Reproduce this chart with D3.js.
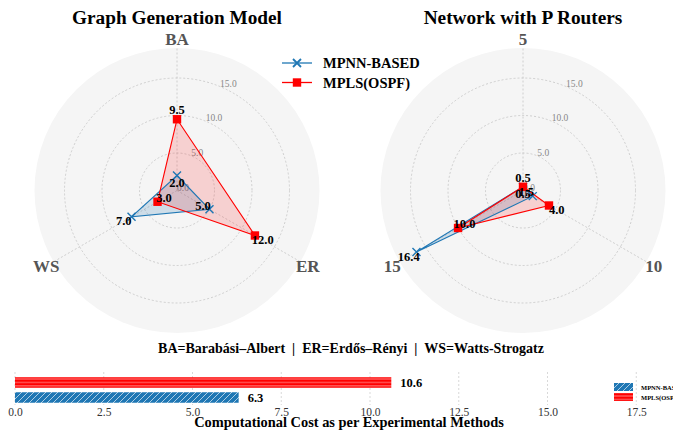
<!DOCTYPE html>
<html><head><meta charset="utf-8">
<script src="https://cdn.jsdelivr.net/npm/d3@7"></script>
<style>
html,body{margin:0;padding:0;background:#fff;}
svg{display:block;font-family:"Liberation Serif","Times New Roman",serif;}
</style></head>
<body><svg id="c" width="673" height="430"></svg>
<script>
// ---- data ----
const seriesNames = ["MPNN-BASED", "MPLS(OSPF)"];
const modelAxes = ["BA", "ER", "WS"];
const modelMPNN = [2.0, 5.0, 7.0];
const modelMPLS = [9.5, 12.0, 3.0];
const routerAxes = ["5", "10", "15"];
const routerMPNN = [0.5, 1.5, 16.4];
const routerMPLS = [0.5, 4.0, 10.0];
const radialTicks = [0, 5, 10, 15];
const radialMax = 19;
const costMethods = ["MPNN-BASED", "MPLS(OSPF)"];
const costValues = [6.3, 10.6];
const costTicks = [0, 2.5, 5, 7.5, 10, 12.5, 15, 17.5];
const subtitle = "BA=Barabási–Albert  |  ER=Erdős–Rényi  |  WS=Watts-Strogatz";
const costTitle = "Computational Cost as per Experimental Methods";

const BLUE = "#1f77b4", RED = "#ff0000";
const svg = d3.select("#c");
const defs = svg.append("defs");

// hatch patterns
const pr = defs.append("pattern").attr("id","hRed").attr("patternUnits","userSpaceOnUse")
  .attr("width",10).attr("height",3.4);
pr.append("rect").attr("width",10).attr("height",3.4).attr("fill",RED);
pr.append("rect").attr("y",1.2).attr("width",10).attr("height",0.9).attr("fill","#fff").attr("opacity",0.55);
const pb = defs.append("pattern").attr("id","hBlue").attr("patternUnits","userSpaceOnUse")
  .attr("width",6).attr("height",6);
pb.append("rect").attr("width",6).attr("height",6).attr("fill",BLUE);
pb.append("path").attr("d","M0,6L6,0M-1.5,1.5L1.5,-1.5M4.5,7.5L7.5,4.5")
  .attr("stroke","#fff").attr("stroke-width",0.8).attr("opacity",0.8);

const R = 142.5;
const rScale = d3.scaleLinear().domain([0, radialMax]).range([0, R]);

function radar(cx, cy, title, axes, mpnn, mpls) {
  const g = svg.append("g").attr("transform", `translate(${cx},${cy})`);
  const n = axes.length;
  const ang = i => i * 2 * Math.PI / n;
  const pt = (i, v) => [Math.sin(ang(i)) * rScale(v), -Math.cos(ang(i)) * rScale(v)];

  g.append("circle").attr("r", R).attr("fill", "#f5f5f5");
  radialTicks.filter(t => t > 0).forEach(t => {
    g.append("circle").attr("r", rScale(t)).attr("fill", "none")
      .attr("stroke", "#c4c4c4").attr("stroke-width", 0.8).attr("stroke-dasharray", "2,2");
  });
  axes.forEach((a, i) => {
    const [x, y] = pt(i, radialMax);
    g.append("line").attr("x1", 0).attr("y1", 0).attr("x2", x).attr("y2", y)
      .attr("stroke", "#c4c4c4").attr("stroke-width", 0.8).attr("stroke-dasharray", "2,2");
    const la = ang(i), lr = 151;
    g.append("text").attr("x", Math.sin(la) * lr).attr("y", -Math.cos(la) * lr)
      .attr("text-anchor", "middle").attr("dominant-baseline", "central")
      .attr("font-size", 17).attr("font-weight", "bold").attr("fill", "#555").text(a);
  });
  // radial tick labels at 22.5 deg
  const ra = 22.5 * Math.PI / 180;
  radialTicks.forEach(t => {
    g.append("text").attr("x", Math.sin(ra) * rScale(t)).attr("y", -Math.cos(ra) * rScale(t))
      .attr("font-size", 9.5).attr("fill", "#888").text(t.toFixed(1));
  });
  const line = d3.line().curve(d3.curveLinearClosed);
  const series = [
    {vals: mpnn, other: mpls, color: BLUE, fill: "rgba(31,119,180,0.18)", mk: "x", hi: false},
    {vals: mpls, other: mpnn, color: RED, fill: "rgba(255,0,0,0.15)", mk: "s", hi: true}
  ];
  series.forEach(s => {
    g.append("path").attr("d", line(s.vals.map((v, i) => pt(i, v))))
      .attr("fill", s.fill).attr("stroke", "none");
  });
  series.forEach(s => {
    g.append("path").attr("d", line(s.vals.map((v, i) => pt(i, v))))
      .attr("fill", "none").attr("stroke", s.color).attr("stroke-width", 1.1);
    s.vals.forEach((v, i) => {
      const [x, y] = pt(i, v);
      if (s.mk === "s") {
        g.append("rect").attr("x", x - 4.2).attr("y", y - 4.2).attr("width", 8.4).attr("height", 8.4).attr("fill", RED);
      } else {
        g.append("path").attr("d", `M${x-4},${y-4}L${x+4},${y+4}M${x-4},${y+4}L${x+4},${y-4}`)
          .attr("stroke", BLUE).attr("stroke-width", 1.4);
      }
    });
  });
  // value labels
  series.forEach(s => {
    s.vals.forEach((v, i) => {
      const outside = s.hi ? v >= s.other[i] : v > s.other[i];
      const rv = outside ? v + 1.2 : v - 1.0;
      const a = ang(i);
      const x = Math.sin(a) * rScale(Math.abs(rv)) * Math.sign(rv);
      const y = -Math.cos(a) * rScale(Math.abs(rv)) * Math.sign(rv);
      g.append("text").attr("x", x).attr("y", y).attr("text-anchor", "middle")
        .attr("dominant-baseline", "central").attr("font-size", 12.5).attr("font-weight", "bold")
        .attr("fill", "#000").text(v.toFixed(1));
    });
  });
  svg.append("text").attr("x", cx).attr("y", 24).attr("text-anchor", "middle")
    .attr("font-size", 19.3).attr("font-weight", "bold").attr("fill", "#000").text(title);
}

radar(177, 190.5, "Graph Generation Model", modelAxes, modelMPNN, modelMPLS);
radar(523, 190.5, "Network with P Routers", routerAxes, routerMPNN, routerMPLS);

// radar legend
const lg = svg.append("g");
seriesNames.forEach((nm, i) => {
  const y = 63 + i * 19.5;
  const col = i === 0 ? BLUE : RED;
  lg.append("line").attr("x1", 282).attr("x2", 312).attr("y1", y).attr("y2", y)
    .attr("stroke", col).attr("stroke-width", 1.3);
  if (i === 0) {
    lg.append("path").attr("d", `M293,${y-4}L301,${y+4}M293,${y+4}L301,${y-4}`)
      .attr("stroke", BLUE).attr("stroke-width", 1.8);
  } else {
    lg.append("rect").attr("x", 292.8).attr("y", y - 4.2).attr("width", 8.4).attr("height", 8.4).attr("fill", RED);
  }
  lg.append("text").attr("x", 323).attr("y", y).attr("dominant-baseline", "central")
    .attr("font-size", 14.5).attr("font-weight", "bold").attr("fill", "#000").text(nm);
});

svg.append("text").attr("x", 351).attr("y", 348).attr("text-anchor", "middle")
  .attr("dominant-baseline", "central").attr("font-size", 14).attr("font-weight", "bold")
  .attr("fill", "#000").attr("xml:space","preserve").style("white-space","pre").text(subtitle);

// bar chart
const x = d3.scaleLinear().domain([0, 18.6]).range([15, 15 + 18.6 * 35.5]);
const y = d3.scaleBand().domain(["MPLS(OSPF)", "MPNN-BASED"]).range([375, 405]).paddingInner(0.3).paddingOuter(0.15);
const bg = svg.append("g");
costTicks.forEach(t => {
  bg.append("line").attr("x1", x(t)).attr("x2", x(t)).attr("y1", 372).attr("y2", 405)
    .attr("stroke", "#cfcfcf").attr("stroke-width", 0.8).attr("stroke-dasharray", "2,2");
});
const xAxis = d3.axisBottom(x).tickValues(costTicks).tickFormat(d3.format(".1f")).tickSize(0).tickPadding(0);
const ax = bg.append("g").attr("transform", "translate(0,405)").call(xAxis);
ax.select(".domain").remove();
ax.selectAll("text").attr("font-family", "Liberation Serif").attr("font-size", 11.5).attr("fill", "#333").attr("dy", "0.95em");
costMethods.forEach((m, i) => {
  bg.append("rect").attr("x", x(0)).attr("y", y(m)).attr("width", x(costValues[i]) - x(0))
    .attr("height", y.bandwidth()).attr("fill", i === 0 ? "url(#hBlue)" : "url(#hRed)");
  bg.append("text").attr("x", x(costValues[i]) + 9).attr("y", y(m) + y.bandwidth() / 2)
    .attr("dominant-baseline", "central").attr("font-size", 12.5).attr("font-weight", "bold")
    .attr("fill", "#000").text(costValues[i].toFixed(1));
});
svg.append("text").attr("x", 349).attr("y", 422).attr("text-anchor", "middle")
  .attr("dominant-baseline", "central").attr("font-size", 14.4).attr("font-weight", "bold")
  .attr("fill", "#000").text(costTitle);
// bar legend
costMethods.forEach((m, i) => {
  const yy = 383 + i * 10;
  svg.append("rect").attr("x", 614).attr("y", yy).attr("width", 19).attr("height", 8)
    .attr("fill", i === 0 ? "url(#hBlue)" : "url(#hRed)");
  svg.append("text").attr("x", 641).attr("y", yy + 4).attr("dominant-baseline", "central")
    .attr("font-size", 6.5).attr("font-weight", "bold").attr("fill", "#000").text(m);
});
</script></body></html>
